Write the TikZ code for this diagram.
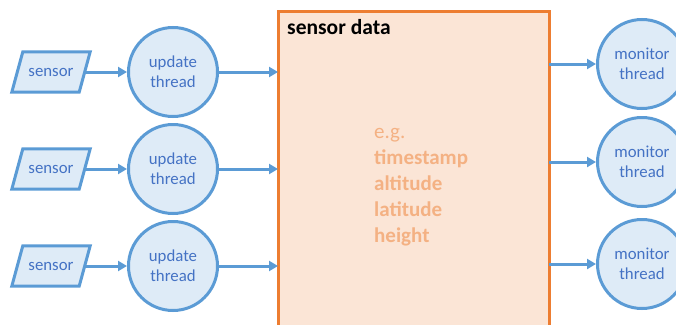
\documentclass[tikz,border=0pt]{standalone}
\usepackage{fontspec}
\setmainfont{Carlito}
\usetikzlibrary{arrows.meta,calc}
\definecolor{lineblue}{HTML}{5B9BD5}
\definecolor{fillblue}{HTML}{DEEBF7}
\definecolor{textblue}{HTML}{4472C4}
\definecolor{lineorange}{HTML}{ED7D31}
\definecolor{fillorange}{HTML}{FBE5D6}
\definecolor{textorange}{HTML}{F4B183}
\tikzset{
  flow/.style={draw=lineblue, line width=3pt, -{Triangle[length=9pt,width=10pt]}},
  threadnode/.style={circle, draw=lineblue, fill=fillblue, line width=3pt,
    minimum size=89pt, inner sep=0pt, text=textblue, align=center,
    font=\fontsize{16.8}{20}\selectfont},
  sensortext/.style={minimum width=78pt, minimum height=40pt, inner sep=0pt,
    text=textblue, font=\fontsize{16.8}{20}\selectfont},
  sensorshape/.style={draw=lineblue, fill=fillblue, line width=3pt, line join=miter},
  store/.style={draw=lineorange, fill=fillorange, line width=3pt}
}
\begin{document}
\begin{tikzpicture}[x=1pt,y=-1pt]
\useasboundingbox (0,0) rectangle (676,324);
\clip (0,0) rectangle (676,324);

% shared data store
\draw[store] (278,11) rectangle (549,340);
\node[anchor=base west, inner sep=0pt, font=\fontsize{21.5}{25}\selectfont\bfseries] (title) at (287,34) {sensor data};
\node[anchor=north west, inner sep=0pt, align=left, text=textorange,
      font=\fontsize{21}{26}\selectfont] (fields) at (374,128)
  {e.g.\\\textbf{timestamp}\\\textbf{altitude}\\\textbf{latitude}\\\textbf{height}};
\coordinate (storeL1) at (278,72);
\coordinate (storeL2) at (278,169);
\coordinate (storeL3) at (278,266);
\coordinate (storeR1) at (549,64);
\coordinate (storeR2) at (549,162);
\coordinate (storeR3) at (549,264);

% sensors and update threads
\foreach \i/\y in {1/72, 2/169, 3/266}{
  \node[sensortext] (s\i) at (51,\y) {};
  \draw[sensorshape] ($(s\i.north west)+(11,0)$) -- (s\i.north east)
     -- ($(s\i.south east)+(-11,0)$) -- (s\i.south west) -- cycle;
  \node[sensortext] at (s\i) {sensor};
  \node[threadnode] (u\i) at (173,\y) {update\\thread};
  \draw[flow] ($(s\i.east)+(-5,0)$) -- (u\i.west);
  \draw[flow] (u\i.east) -- (storeL\i);
}

% monitor threads
\foreach \i/\y in {1/64, 2/162, 3/264}{
  \node[threadnode] (m\i) at (642,\y) {monitor\\thread};
  \draw[flow] (storeR\i) -- (m\i.west);
}
\end{tikzpicture}
\end{document}
